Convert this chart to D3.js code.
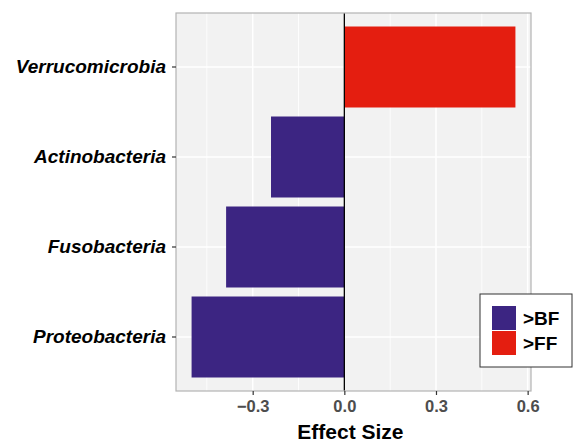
<!DOCTYPE html>
<html lang="en">
<head>
<meta charset="UTF-8"/>
<title>Effect Size by Phylum</title>
<script src="https://d3js.org/d3.v7.min.js"></script>
<style>
    body { margin: 0; background: #fff; }
    text { font-family: "Liberation Sans", Arial, sans-serif; }
</style>
</head>
<body>
<div id="chart"></div>
<script>
    // Data
    const phyla = ["Verrucomicrobia", "Actinobacteria", "Fusobacteria", "Proteobacteria"];
    const effects = [0.56, -0.24, -0.387, -0.50];
    const groups = [">FF", ">BF", ">BF", ">BF"];
    const xTicks = [-0.3, 0.0, 0.3, 0.6];
    const legendLabels = [">BF", ">FF"];

    const w = 574, h = 443;
    const panel = { left: 176, right: 531, top: 13, bottom: 391 };

    const svg = d3.select("#chart").append("svg")
        .attr("width", w)
        .attr("height", h);

    // Scales
    const x = d3.scaleLinear()
        .domain([-0.551, 0.611])
        .range([panel.left, panel.right]);

    const y = d3.scaleBand()
        .domain(phyla)
        .range([panel.top, panel.bottom])
        .paddingInner(0.1)
        .paddingOuter(0.15);

    const color = d3.scaleOrdinal()
        .domain(legendLabels)
        .range(["#3c2582", "#e41e10"]);

    // Panel background
    svg.append("rect")
        .attr("x", panel.left)
        .attr("y", panel.top)
        .attr("width", panel.right - panel.left)
        .attr("height", panel.bottom - panel.top)
        .attr("fill", "#f2f2f2");

    // Minor grid lines
    const minor = [-0.45, -0.15, 0.15, 0.45];
    svg.selectAll(".minor")
        .data(minor)
        .enter()
        .append("line")
        .attr("x1", d => x(d)).attr("x2", d => x(d))
        .attr("y1", panel.top).attr("y2", panel.bottom)
        .attr("stroke", "#ffffff")
        .attr("stroke-width", 0.8);

    // Major grid lines
    svg.selectAll(".vmajor")
        .data(xTicks)
        .enter()
        .append("line")
        .attr("x1", d => x(d)).attr("x2", d => x(d))
        .attr("y1", panel.top).attr("y2", panel.bottom)
        .attr("stroke", "#ffffff")
        .attr("stroke-width", 1.5);

    svg.selectAll(".hmajor")
        .data(phyla)
        .enter()
        .append("line")
        .attr("x1", panel.left).attr("x2", panel.right)
        .attr("y1", d => y(d) + y.bandwidth() / 2)
        .attr("y2", d => y(d) + y.bandwidth() / 2)
        .attr("stroke", "#ffffff")
        .attr("stroke-width", 1.5);

    // Bars
    svg.selectAll(".bar")
        .data(phyla)
        .enter()
        .append("rect")
        .attr("x", (d, i) => x(Math.min(0, effects[i])))
        .attr("y", d => y(d))
        .attr("width", (d, i) => Math.abs(x(effects[i]) - x(0)))
        .attr("height", y.bandwidth())
        .attr("fill", (d, i) => color(groups[i]));

    // Zero line
    svg.append("line")
        .attr("x1", x(0)).attr("x2", x(0))
        .attr("y1", panel.top).attr("y2", panel.bottom)
        .attr("stroke", "#000")
        .attr("stroke-width", 1.3);

    // Panel border
    svg.append("rect")
        .attr("x", panel.left)
        .attr("y", panel.top)
        .attr("width", panel.right - panel.left)
        .attr("height", panel.bottom - panel.top)
        .attr("fill", "none")
        .attr("stroke", "#b3b3b3")
        .attr("stroke-width", 1.2);

    // X axis
    const xAxis = svg.append("g")
        .attr("transform", `translate(0,${panel.bottom})`)
        .call(d3.axisBottom(x).tickValues(xTicks).tickSize(4).tickPadding(5)
            .tickFormat(d => d3.format(".1f")(d).replace("-", "\u2013")));
    xAxis.select(".domain").remove();
    xAxis.selectAll(".tick line").attr("stroke", "#333").attr("stroke-width", 1.2);
    xAxis.selectAll(".tick text")
        .attr("fill", "#4d4d4d")
        .attr("font-size", "16.5px")
        .attr("font-weight", "bold");

    // Y axis
    const yAxis = svg.append("g")
        .attr("transform", `translate(${panel.left},0)`)
        .call(d3.axisLeft(y).tickSize(4).tickPadding(6));
    yAxis.select(".domain").remove();
    yAxis.selectAll(".tick line").attr("stroke", "#333").attr("stroke-width", 1.2);
    yAxis.selectAll(".tick text")
        .attr("fill", "#000")
        .attr("font-size", "19px")
        .attr("font-weight", "bold")
        .attr("font-style", "italic");

    // X axis title
    svg.append("text")
        .attr("x", x(0.02))
        .attr("y", 439)
        .attr("text-anchor", "middle")
        .attr("font-size", "21px")
        .attr("font-weight", "bold")
        .attr("fill", "#000")
        .text("Effect Size");

    // Legend
    const legend = svg.append("g");
    legend.append("rect")
        .attr("x", 480).attr("y", 294)
        .attr("width", 92).attr("height", 73)
        .attr("fill", "#fff")
        .attr("stroke", "#333")
        .attr("stroke-width", 1);

    legend.selectAll(".key")
        .data(legendLabels)
        .enter()
        .append("rect")
        .attr("x", 492)
        .attr("y", (d, i) => 306 + i * 25)
        .attr("width", 24)
        .attr("height", 24)
        .attr("fill", d => color(d));

    legend.selectAll(".lab")
        .data(legendLabels)
        .enter()
        .append("text")
        .attr("x", 523)
        .attr("y", (d, i) => 318 + i * 25)
        .attr("dy", "0.35em")
        .attr("font-size", "19px")
        .attr("font-weight", "bold")
        .attr("fill", "#000")
        .text(d => d);
</script>
</body>
</html>
